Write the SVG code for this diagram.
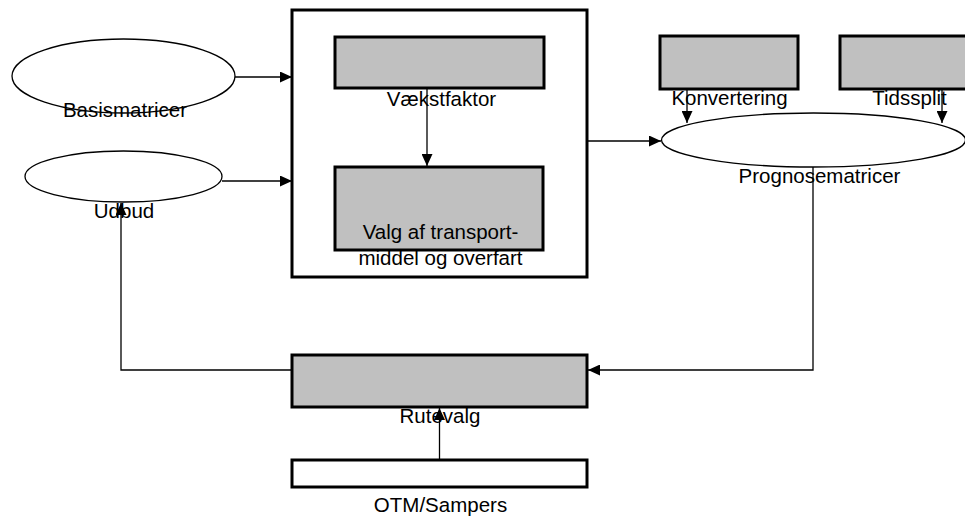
<svg xmlns="http://www.w3.org/2000/svg" width="965" height="517" viewBox="0 0 965 517">
<style>
.box{fill:#c0c0c0;stroke:#000;stroke-width:3}
.frame{fill:#fff;stroke:#000;stroke-width:3}
.ell{fill:#fff;stroke:#000;stroke-width:1.3}
.lbl{font-family:"Liberation Sans",Arial,sans-serif;font-size:20.5px;fill:#000;text-anchor:middle}
.con{fill:none;stroke:#000;stroke-width:1.3}
</style>
<defs>
<marker id="ah" markerUnits="userSpaceOnUse" markerWidth="13" markerHeight="11" refX="12" refY="5.5" orient="auto">
<path d="M0,0 L12,5.5 L0,11 Z" fill="#000"/>
</marker>
</defs>
<rect width="965" height="517" fill="#fff"/>
<g id="main-frame"><rect class="frame" x="292" y="10" width="295" height="267"/></g>
<g id="basismatricer"><ellipse class="ell" cx="123.5" cy="76" rx="111.5" ry="37"/><text class="lbl" x="125" y="117">Basismatricer</text></g>
<g id="udbud"><ellipse class="ell" cx="123.5" cy="176.5" rx="98.5" ry="25.5"/><text class="lbl" x="124" y="218">Udbud</text></g>
<g id="vaekstfaktor"><rect class="box" x="335" y="37" width="209" height="51"/><text class="lbl" x="441.5" y="106">Vækstfaktor</text></g>
<g id="valg"><rect class="box" x="335" y="167" width="208" height="83"/><text class="lbl" x="440.5" y="239">Valg af transport-</text><text class="lbl" x="440.5" y="265">middel og overfart</text></g>
<g id="konvertering"><rect class="box" x="660" y="36" width="138" height="53"/><text class="lbl" x="729.5" y="105">Konvertering</text></g>
<g id="tidssplit"><rect class="box" x="840" y="36" width="130" height="53"/><text class="lbl" x="909.5" y="105">Tidssplit</text></g>
<g id="prognosematricer"><ellipse class="ell" cx="813.5" cy="140" rx="152" ry="27"/><text class="lbl" x="819.5" y="183">Prognosematricer</text></g>
<g id="rutevalg"><rect class="box" x="292" y="355" width="295" height="52"/><text class="lbl" x="440" y="423">Rutevalg</text></g>
<g id="otm"><rect class="frame" x="292" y="460" width="295" height="27"/><text class="lbl" x="440.5" y="512">OTM/Sampers</text></g>
<g id="connectors">
<line class="con" x1="235" y1="77" x2="292" y2="77" marker-end="url(#ah)"/>
<line class="con" x1="222" y1="181" x2="292" y2="181" marker-end="url(#ah)"/>
<line class="con" x1="427" y1="88" x2="427" y2="166" marker-end="url(#ah)"/>
<line class="con" x1="587" y1="141" x2="661" y2="141" marker-end="url(#ah)"/>
<line class="con" x1="687" y1="89" x2="687" y2="123" marker-end="url(#ah)"/>
<line class="con" x1="942" y1="89" x2="942" y2="123" marker-end="url(#ah)"/>
<polyline class="con" points="813,167 813,370 588,370" marker-end="url(#ah)"/>
<polyline class="con" points="292,370 121,370 121,203" marker-end="url(#ah)"/>
<line class="con" x1="439.5" y1="460" x2="439.5" y2="408" marker-end="url(#ah)"/>
</g>
</svg>
